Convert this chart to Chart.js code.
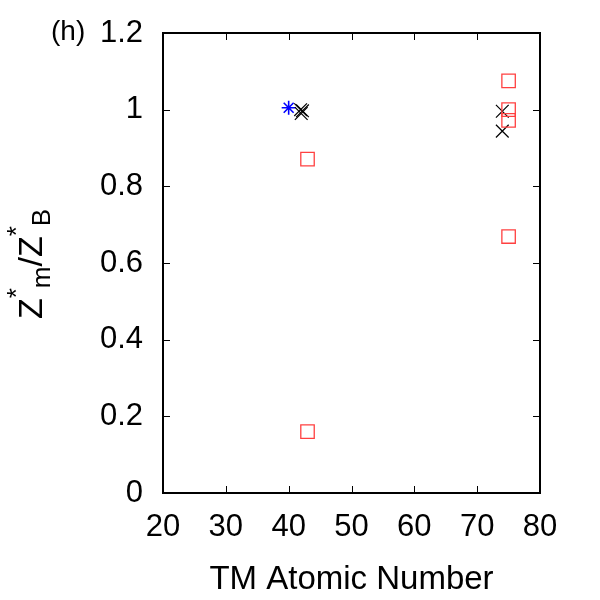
<!DOCTYPE html>
<html><head><meta charset="utf-8">
<script src="https://cdn.jsdelivr.net/npm/chart.js@4.4.0/dist/chart.umd.min.js"></script>
<style>html,body{margin:0;padding:0;background:#fff}#wrap{width:600px;height:600px}</style>
</head><body><div id="wrap"><canvas id="c" width="600" height="600"></canvas></div>
<script>
const xTicks = [20,30,40,50,60,70,80];
const yTicks = [0,0.2,0.4,0.6,0.8,1,1.2];
const blueX = [40];
const blueY = [1.005];
const blackX = [41.9,42.2,42,74,74];
const blackY = [1.0,0.997,0.99,0.996,0.944];
const redX = [43,43,75,75,75,75];
const redY = [0.871,0.16,1.075,1.0,0.972,0.669];
const panelLabel = '(h)';
const xTitle = 'TM Atomic Number';

const FONT = '"Liberation Sans", Arial, sans-serif';
const pts = (xs, ys) => xs.map((x,i)=>({x, y: ys[i]}));

const framePlugin = {
  id: 'frame',
  afterDraw(chart) {
    const {ctx, chartArea: a, scales} = chart;
    ctx.save();
    ctx.strokeStyle = '#000';
    ctx.lineWidth = 1;
    const t = 7;
    ctx.beginPath();
    xTicks.forEach(v => {
      const px = Math.round(scales.x.getPixelForValue(v)) + 0.5;
      ctx.moveTo(px, a.bottom); ctx.lineTo(px, a.bottom - t);
      ctx.moveTo(px, a.top); ctx.lineTo(px, a.top + t);
    });
    yTicks.forEach(v => {
      const py = Math.round(scales.y.getPixelForValue(v)) + 0.5;
      ctx.moveTo(a.left, py); ctx.lineTo(a.left + t, py);
      ctx.moveTo(a.right, py); ctx.lineTo(a.right - t, py);
    });
    ctx.stroke();
    ctx.lineWidth = 2;
    ctx.strokeRect(a.left, a.top, a.right - a.left, a.bottom - a.top);
    // panel label
    ctx.fillStyle = '#000';
    ctx.font = '28px ' + FONT;
    ctx.textAlign = 'left'; ctx.textBaseline = 'alphabetic';
    ctx.fillText(panelLabel, 51, 40);
    // y title with sub/superscripts
    ctx.translate(42, (a.top + a.bottom) / 2 + 1);
    ctx.rotate(-Math.PI / 2);
    const parts = [
      ['Z', 0, 34], ['*', -17, 26], ['m', 8, 26], ['/', 0, 34], ['Z', 0, 34], ['*', -17, 26], ['B', 8, 26]
    ];
    const widths = parts.map(p => { ctx.font = p[2] + 'px ' + FONT; return ctx.measureText(p[0]).width; });
    const total = widths.reduce((s,w)=>s+w,0);
    let x = -total / 2;
    parts.forEach((p, i) => {
      ctx.font = p[2] + 'px ' + FONT;
      ctx.fillText(p[0], x, p[1]);
      x += widths[i];
    });
    ctx.restore();
  }
};

new Chart(document.getElementById('c'), {
  type: 'scatter',
  data: {
    datasets: [
      { data: pts(redX, redY), pointStyle: 'rect', radius: 9.5, borderColor: '#ff4040', backgroundColor: 'rgba(0,0,0,0)', borderWidth: 1.3 },
      { data: pts(blackX, blackY), pointStyle: 'crossRot', radius: 9, borderColor: '#000', borderWidth: 1.2 },
      { data: pts(blueX, blueY), pointStyle: 'star', radius: 7, borderColor: '#0000ff', borderWidth: 1.6 }
    ]
  },
  options: {
    responsive: false, animation: false, devicePixelRatio: 1,
    layout: { padding: { top: 33, right: 60, left: 0, bottom: 0 } },
    plugins: { legend: { display: false }, tooltip: { enabled: false } },
    scales: {
      x: {
        type: 'linear', min: 20, max: 80,
        afterFit(s) { s.height = 107; s.paddingLeft = 0; s.paddingRight = 0; },
        afterBuildTicks(s) { s.ticks = xTicks.map(v => ({value: v})); },
        grid: { display: false, drawTicks: false },
        border: { display: false },
        ticks: { color: '#000', font: { size: 31, family: FONT }, padding: 16, maxRotation: 0, autoSkip: false },
        title: { display: true, text: xTitle, color: '#000', font: { size: 33, family: FONT }, padding: { top: 5, bottom: 0 } }
      },
      y: {
        type: 'linear', min: 0, max: 1.2,
        afterFit(s) { s.width = 163; s.paddingTop = 0; s.paddingBottom = 0; },
        afterBuildTicks(s) { s.ticks = yTicks.map(v => ({value: v})); },
        grid: { display: false, drawTicks: false },
        border: { display: false },
        ticks: { color: '#000', font: { size: 31, family: FONT }, padding: 20, autoSkip: false, callback: v => String(v) }
      }
    }
  },
  plugins: [framePlugin]
});
</script></body></html>
